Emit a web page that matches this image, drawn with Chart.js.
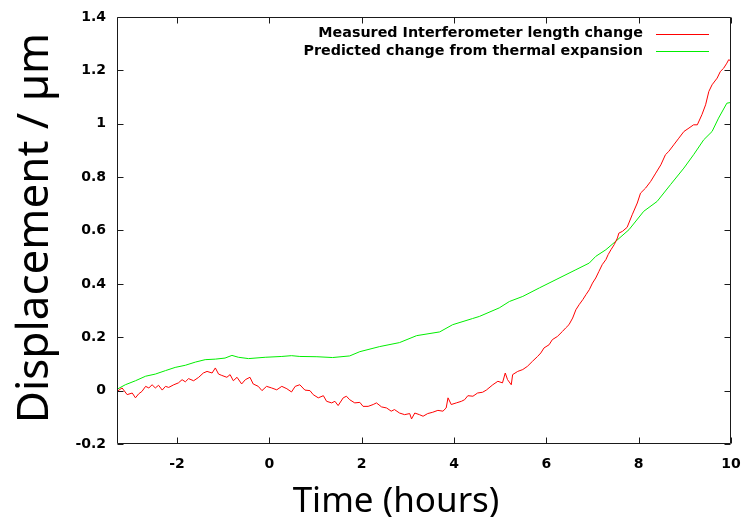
<!DOCTYPE html>
<html>
<head>
<meta charset="utf-8">
<script src="https://cdn.jsdelivr.net/npm/chart.js@4"></script>
<style>
html,body{margin:0;padding:0;background:#fff;}
#wrap{width:742px;height:517px;}
</style>
</head>
<body>
<div id="wrap"><canvas id="c" width="742" height="517"></canvas></div>
<script>
// ---- data ----
const measuredX = [-3.3,-3.19,-3.08,-2.97,-2.9,-2.83,-2.76,-2.68,-2.61,-2.54,-2.47,-2.4,-2.32,-2.25,-2.18,-2.07,-1.97,-1.89,-1.82,-1.75,-1.64,-1.53,-1.43,-1.35,-1.24,-1.17,-1.1,-1.03,-0.92,-0.85,-0.78,-0.7,-0.6,-0.52,-0.42,-0.35,-0.24,-0.16,-0.06,0.05,0.16,0.27,0.38,0.48,0.56,0.66,
  0.77,0.88,0.95,1.06,1.17,1.24,1.35,1.42,1.49,1.6,1.67,1.74,1.85,1.96,2.03,2.14,2.25,2.32,2.43,2.54,2.64,2.71,2.82,2.93,3.04,3.08,3.15,3.25,3.33,3.43,3.54,3.65,3.76,3.83,3.87,3.94,4.05,4.16,4.23,4.3,4.41,4.51,4.62,
  4.7,4.84,4.95,5.05,5.11,5.16,5.24,5.27,5.38,5.49,5.59,5.7,5.81,5.88,5.95,6.06,6.13,6.24,6.35,6.42,6.49,6.57,6.64,6.71,6.79,6.86,6.93,7.0,7.07,7.14,7.21,7.29,7.34,7.4,7.47,7.54,7.57,7.65,7.75,
  7.86,7.97,8.04,8.15,8.26,8.37,8.48,8.58,8.65,8.76,8.87,8.98,9.09,9.19,9.27,9.37,9.45,9.52,9.59,9.7,9.77,9.84,9.91,9.95,10.0];
const measuredY = [-0.003,0.01,-0.015,-0.009,-0.027,-0.012,-0.003,0.016,0.01,0.022,0.01,0.02,0.002,0.016,0.012,0.022,0.029,0.041,0.033,0.045,0.037,0.05,0.066,0.072,0.066,0.085,0.062,0.057,0.05,0.06,0.037,0.05,0.025,0.041,0.05,0.025,0.016,0.0,0.016,0.01,0.003,0.016,0.007,-0.005,0.016,0.022,
  0.002,0.0,-0.015,-0.027,-0.019,-0.04,-0.046,-0.04,-0.056,-0.027,-0.021,-0.034,-0.046,-0.044,-0.059,-0.059,-0.052,-0.046,-0.061,-0.065,-0.077,-0.071,-0.084,-0.09,-0.086,-0.106,-0.084,-0.09,-0.096,-0.086,-0.081,-0.074,-0.077,-0.065,-0.027,-0.052,-0.046,-0.04,-0.034,-0.019,-0.021,-0.009,-0.006,
  0.002,0.022,0.035,0.029,0.066,0.041,0.022,0.06,0.072,0.079,0.091,0.11,0.128,0.141,0.16,0.172,0.191,0.203,0.222,0.235,0.247,0.272,0.303,0.322,0.341,0.36,0.378,0.403,0.422,0.447,0.472,0.491,0.51,0.528,0.547,0.572,0.59,0.597,0.612,
  0.659,0.703,0.74,0.759,0.784,0.815,0.846,0.884,0.896,0.921,0.946,0.971,0.984,0.996,0.996,1.034,1.071,1.121,1.146,1.171,1.196,1.208,1.227,1.24,1.235];

const predictedX = [-3.3,-3.12,-2.9,-2.68,-2.47,-2.25,-2.04,-1.82,-1.6,-1.39,-1.17,-0.96,-0.81,-0.67,-0.45,-0.09,0.27,0.48,0.66,1.03,1.37,1.74,1.96,2.39,2.82,3.19,3.69,3.97,4.4,4.55,4.98,5.2,5.49,5.85,6.21,6.64,6.93,7.07,7.29,7.5,7.79,8.11,8.4,8.69,8.98,9.19,9.41,9.59,9.73,9.91,10.0];
const predictedY = [0.005,0.022,0.037,0.054,0.062,0.075,0.087,0.095,0.107,0.116,0.118,0.122,0.132,0.125,0.12,0.125,0.128,0.131,0.128,0.127,0.124,0.13,0.146,0.165,0.18,0.206,0.22,0.247,0.27,0.278,0.31,0.334,0.353,0.385,0.416,0.453,0.478,0.503,0.528,0.559,0.603,0.672,0.709,0.772,0.834,0.884,0.94,0.971,1.021,1.077,1.08];

const seriesLabels = ["Measured Interferometer length change", "Predicted change from thermal expansion"];
const seriesColors = ["#ff0000", "#00ee00"];
const xTicks = [-2, 0, 2, 4, 6, 8, 10];
const xTickLabels = ["-2", "0", "2", "4", "6", "8", "10"];
const yTicks = [-0.2, 0, 0.2, 0.4, 0.6, 0.8, 1, 1.2, 1.4];
const yTickLabels = ["-0.2", "0", "0.2", "0.4", "0.6", "0.8", "1", "1.2", "1.4"];
const xTitle = "Time (hours)";
const yTitle = "Displacement / µm";

const toPts = (xs, ys) => xs.map((x, i) => ({x: x, y: ys[i]}));

const framePlugin = {
  id: 'frame',
  afterDatasetsDraw(chart) {
    const ctx = chart.ctx, a = chart.chartArea;
    const xs = chart.scales.x, ys = chart.scales.y;
    ctx.save();
    ctx.strokeStyle = '#1a1a1a';
    ctx.lineWidth = 1;
    const L = Math.round(a.left) + 0.5, R = Math.round(a.right) - 0.5;
    const T = Math.round(a.top) + 0.5, B = Math.round(a.bottom) - 0.5;
    ctx.beginPath();
    ctx.rect(L, T, R - L, B - T);
    const tl = 6;
    xs.ticks.forEach(t => {
      const px = Math.round(xs.getPixelForValue(t.value)) + 0.5;
      ctx.moveTo(px, B); ctx.lineTo(px, B - tl);
      ctx.moveTo(px, T); ctx.lineTo(px, T + tl);
    });
    ys.ticks.forEach(t => {
      const py = Math.round(ys.getPixelForValue(t.value)) + 0.5;
      ctx.moveTo(L, py); ctx.lineTo(L + tl, py);
      ctx.moveTo(R, py); ctx.lineTo(R - tl, py);
    });
    ctx.stroke();

    // legend (gnuplot style: text right-aligned, sample line on the right)
    ctx.font = 'bold 14.3px "DejaVu Sans"';
    ctx.textAlign = 'right';
    ctx.textBaseline = 'middle';
    chart.data.datasets.forEach((ds, i) => {
      const y = 33.5 + i * 17.5;
      ctx.fillStyle = '#000';
      ctx.fillText(ds.label, 643, y);
      ctx.strokeStyle = seriesColors[i];
      ctx.lineWidth = 1;
      ctx.beginPath();
      ctx.moveTo(656, Math.round(y) + 0.5); ctx.lineTo(709, Math.round(y) + 0.5);
      ctx.stroke();
    });

    // axis titles
    ctx.fillStyle = '#000';
    ctx.textBaseline = 'alphabetic';
    ctx.textAlign = 'center';
    ctx.font = '35px "Noto Sans"';
    ctx.fillText(xTitle, 396, 512);
    ctx.save();
    ctx.translate(48, 228);
    ctx.rotate(-Math.PI / 2);
    ctx.font = '44px "Noto Sans"';
    ctx.fillText(yTitle, 0, 0);
    ctx.restore();
    ctx.restore();
  }
};

new Chart(document.getElementById('c'), {
  type: 'line',
  data: {
    datasets: [
      {label: seriesLabels[0], data: toPts(measuredX, measuredY), borderColor: seriesColors[0], borderWidth: 1, pointRadius: 0, tension: 0, fill: false},
      {label: seriesLabels[1], data: toPts(predictedX, predictedY), borderColor: seriesColors[1], borderWidth: 1, pointRadius: 0, tension: 0, fill: false}
    ]
  },
  options: {
    responsive: false,
    animation: false,
    devicePixelRatio: 1,
    layout: {padding: {top: 17, right: 11, left: 0, bottom: 0}},
    plugins: {legend: {display: false}, tooltip: {enabled: false}},
    scales: {
      x: {
        type: 'linear', min: -3.3, max: 10,
        grid: {display: false, drawTicks: false},
        border: {display: false},
        afterBuildTicks: s => { s.ticks = xTicks.map(v => ({value: v})); },
        afterFit: s => { s.height = 73; s.paddingLeft = 0; s.paddingRight = 0; },
        ticks: {
          font: {family: 'DejaVu Sans', weight: 'bold', size: 14},
          color: '#000', padding: 12, maxRotation: 0,
          callback: (v, i) => xTickLabels[i]
        }
      },
      y: {
        type: 'linear', min: -0.2, max: 1.4,
        grid: {display: false, drawTicks: false},
        border: {display: false},
        afterBuildTicks: s => { s.ticks = yTicks.map(v => ({value: v})); },
        afterFit: s => { s.width = 117; s.paddingTop = 0; s.paddingBottom = 0; },
        ticks: {
          font: {family: 'DejaVu Sans', weight: 'bold', size: 14},
          color: '#000', padding: 11,
          callback: (v, i) => yTickLabels[i]
        }
      }
    }
  },
  plugins: [framePlugin]
});
</script>
</body>
</html>
